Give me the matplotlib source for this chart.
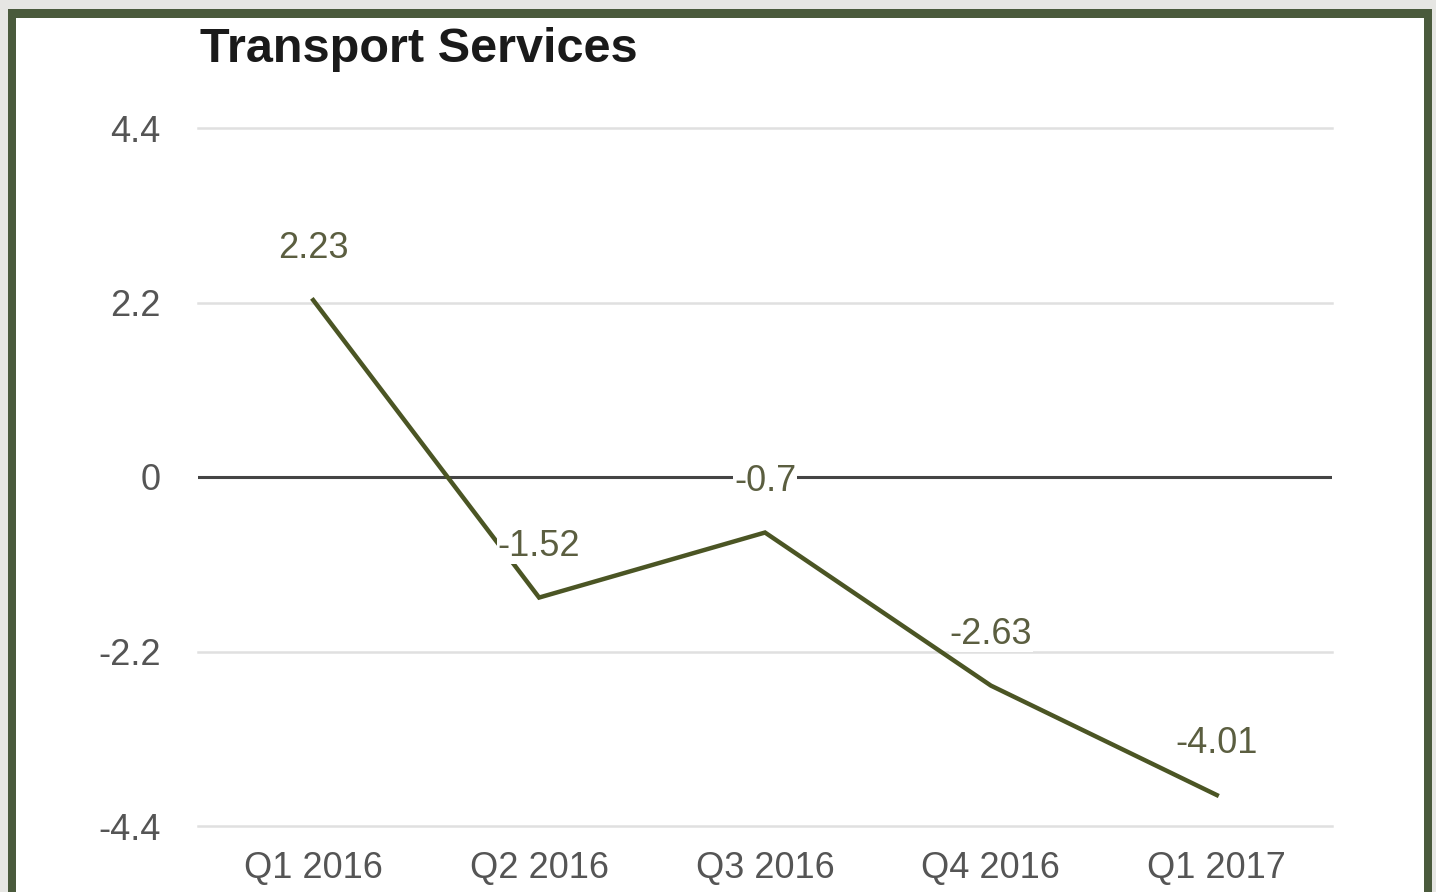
import matplotlib.pyplot as plt
from matplotlib.patches import Rectangle

quarters = ["Q1 2016", "Q2 2016", "Q3 2016", "Q4 2016", "Q1 2017"]
values = [2.23, -1.52, -0.7, -2.63, -4.01]
labels = ["2.23", "-1.52", "-0.7", "-2.63", "-4.01"]
yticks = [4.4, 2.2, 0, -2.2, -4.4]
ytick_labels = ["4.4", "2.2", "0", "-2.2", "-4.4"]

plt.rcParams['font.family'] = ['Liberation Sans', 'DejaVu Sans']

W, H = 1436, 892
fig = plt.figure(figsize=(W / 100, H / 100), dpi=100)
fig.patch.set_facecolor("#e6e6e3")

# frame: dark green border, white inside (drawn below the axes)
fig.patches.append(Rectangle((8 / W, 0), 1424 / W, 1 - 9 / H, transform=fig.transFigure,
                             facecolor="#4a5a3c", edgecolor="none", zorder=-2))
fig.patches.append(Rectangle((16 / W, 0), 1408 / W, 1 - 18 / H, transform=fig.transFigure,
                             facecolor="white", edgecolor="none", zorder=-1))

ax = fig.add_axes([198 / W, 1 - 826 / H, (1332 - 198) / W, (826 - 128) / H])
ax.set_facecolor("none")
ax.set_zorder(1)

x = range(len(quarters))
ax.plot(x, values, color="#4b5524", linewidth=3.2, zorder=3, solid_joinstyle="miter")

for xi, v, lab in zip(x, values, labels):
    ax.annotate(lab, (xi, v), xytext=(0, 37), textcoords="offset points",
                ha="center", va="center", fontsize=26, color="#5b5e40", zorder=4,
                bbox=dict(facecolor="white", edgecolor="none", pad=0.5))

ax.set_xlim(-0.51, 4.51)
ax.set_ylim(-4.4, 4.4)
ax.set_yticks(yticks)
ax.set_yticklabels(ytick_labels)
ax.set_xticks(list(x))
ax.set_xticklabels(quarters)

for yv in yticks:
    if yv == 0:
        ax.axhline(yv, color="#444444", linewidth=2.2, zorder=2)
    else:
        ax.axhline(yv, color="#e0e0e0", linewidth=1.8, zorder=1, clip_on=False)

for s in ax.spines.values():
    s.set_visible(False)
ax.tick_params(length=0, labelsize=26, colors="#555555")
ax.tick_params(axis="y", pad=27)
ax.tick_params(axis="x", pad=18)

fig.text(200 / W, 1 - 49 / H, "Transport Services", fontsize=35, fontweight="bold",
         color="#1a1a1a", ha="left", va="center")

fig.savefig("out.png", dpi=100, facecolor=fig.get_facecolor())
